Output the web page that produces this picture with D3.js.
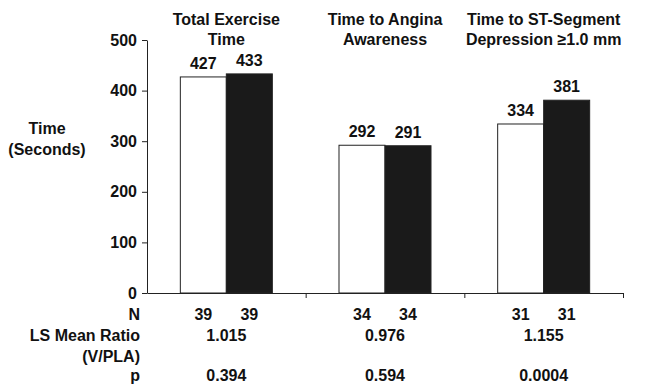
<!DOCTYPE html>
<html>
<head>
<meta charset="utf-8">
<script src="https://cdn.jsdelivr.net/npm/d3@7"></script>
<style>
  body { margin: 0; background: #fff; }
  text { font-family: "Liberation Sans", Arial, sans-serif; font-weight: bold; fill: #111; }
</style>
</head>
<body>
<div id="chart"></div>
<script>
// Data
var groups = ["Total Exercise Time", "Time to Angina Awareness", "Time to ST-Segment Depression"];
var titleLines = [["Total Exercise", "Time"], ["Time to Angina", "Awareness"], ["Time to ST-Segment", "Depression \u22651.0 mm"]];
var series = ["PLA", "V"];
var placebo = [427, 292, 334];
var vardenafil = [433, 291, 381];
var nPlacebo = [39, 34, 31];
var nV = [39, 34, 31];
var ratios = ["1.015", "0.976", "1.155"];
var pValues = ["0.394", "0.594", "0.0004"];
var yTicks = [0, 100, 200, 300, 400, 500];

var svgWidth = 647;
var svgHeight = 389;
var fs = "16px";

var svg = d3.select("#chart")
    .append("svg")
    .attr("width", svgWidth)
    .attr("height", svgHeight);

// plot area
var x0 = 147, x1 = 623, yTop = 40, yBottom = 293;

var yScale = d3.scaleLinear()
    .domain([0, 500])
    .range([yBottom, yTop]);

var xGroup = d3.scaleBand()
    .domain(groups)
    .range([x0, x1]);

var half = 46;
var xSeries = d3.scaleBand()
    .domain(series)
    .range([xGroup.bandwidth() / 2 - half, xGroup.bandwidth() / 2 + half]);

// y axis
var leftAxis = d3.axisLeft(yScale)
    .tickValues(yTicks)
    .tickSize(5)
    .tickSizeOuter(0)
    .tickPadding(5);

var yAxisG = svg.append("g")
    .attr("transform", `translate(${x0}, 0)`)
    .call(leftAxis);
yAxisG.selectAll("text").style("font-size", fs);
yAxisG.selectAll("line, path").attr("stroke", "#222");

// x axis with boundary ticks
var xIdx = d3.scaleLinear().domain([0, groups.length]).range([x0, x1]);
var bottomAxis = d3.axisBottom(xIdx)
    .tickValues([1, 2, 3])
    .tickSize(5)
    .tickSizeOuter(0)
    .tickFormat("");
var xAxisG = svg.append("g")
    .attr("transform", `translate(0, ${yBottom})`)
    .call(bottomAxis);
xAxisG.selectAll("line, path").attr("stroke", "#222");

// build rows
var rows = groups.map(function(g, i) {
    return {
        group: g,
        title: titleLines[i],
        vals: [
            { s: "PLA", v: placebo[i], n: nPlacebo[i] },
            { s: "V", v: vardenafil[i], n: nV[i] }
        ],
        ratio: ratios[i],
        p: pValues[i]
    };
});

var groupG = svg.selectAll(".grp")
    .data(rows)
    .enter()
    .append("g")
    .attr("class", "grp")
    .attr("transform", d => `translate(${xGroup(d.group)}, 0)`);

// bars
groupG.selectAll("rect")
    .data(d => d.vals)
    .enter()
    .append("rect")
    .attr("x", d => xSeries(d.s))
    .attr("y", d => yScale(d.v))
    .attr("width", xSeries.bandwidth())
    .attr("height", d => yScale(0) - yScale(d.v))
    .attr("fill", d => d.s === "PLA" ? "#fff" : "#1a1a1a")
    .attr("stroke", "#222")
    .attr("stroke-width", 1);

// value labels
groupG.selectAll(".val")
    .data(d => d.vals)
    .enter()
    .append("text")
    .attr("class", "val")
    .attr("x", d => xSeries(d.s) + xSeries.bandwidth() / 2)
    .attr("y", d => yScale(d.v) - 8)
    .attr("text-anchor", "middle")
    .style("font-size", fs)
    .text(d => d.v);

// group titles
groupG.selectAll(".title")
    .data(d => d.title)
    .enter()
    .append("text")
    .attr("class", "title")
    .attr("x", xGroup.bandwidth() / 2)
    .attr("y", (d, i) => 25 + i * 20)
    .attr("text-anchor", "middle")
    .style("font-size", fs)
    .text(d => d);

// N row
groupG.selectAll(".n")
    .data(d => d.vals)
    .enter()
    .append("text")
    .attr("class", "n")
    .attr("x", d => xSeries(d.s) + xSeries.bandwidth() / 2)
    .attr("y", 320)
    .attr("text-anchor", "middle")
    .style("font-size", fs)
    .text(d => d.n);

// ratio row
groupG.append("text")
    .attr("x", xGroup.bandwidth() / 2)
    .attr("y", 341)
    .attr("text-anchor", "middle")
    .style("font-size", fs)
    .text(d => d.ratio);

// p row
groupG.append("text")
    .attr("x", xGroup.bandwidth() / 2)
    .attr("y", 381)
    .attr("text-anchor", "middle")
    .style("font-size", fs)
    .text(d => d.p);

// row labels
var rowLabels = [["N", 320], ["LS Mean Ratio", 341], ["(V/PLA)", 362], ["p", 381]];
svg.selectAll(".rowlab")
    .data(rowLabels)
    .enter()
    .append("text")
    .attr("class", "rowlab")
    .attr("x", 140)
    .attr("y", d => d[1])
    .attr("text-anchor", "end")
    .style("font-size", fs)
    .text(d => d[0]);

// y axis title
svg.append("text")
    .attr("x", 47)
    .attr("y", 134)
    .attr("text-anchor", "middle")
    .style("font-size", fs)
    .text("Time");
svg.append("text")
    .attr("x", 47)
    .attr("y", 155)
    .attr("text-anchor", "middle")
    .style("font-size", fs)
    .text("(Seconds)");
</script>
</body>
</html>
